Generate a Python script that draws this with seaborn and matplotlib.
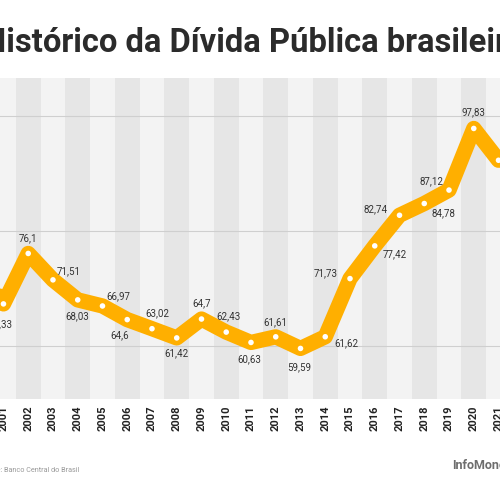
import matplotlib
matplotlib.use('Agg')
import matplotlib.pyplot as plt
import seaborn as sns
import pandas as pd

# divida bruta (% do PIB)
anos = [2000, 2001, 2002, 2003, 2004, 2005, 2006, 2007, 2008, 2009, 2010,
        2011, 2012, 2013, 2014, 2015, 2016, 2017, 2018, 2019, 2020, 2021]
divida = [75.0, 67.33, 76.1, 71.51, 68.03, 66.97, 64.6, 63.02, 61.42, 64.7, 62.43,
          60.63, 61.61, 59.59, 61.62, 71.73, 77.42, 82.74, 84.78, 87.12, 97.83, 92.3]
titulo = 'Histórico da Dívida Pública brasileira'
fonte = 'Fonte: Banco Central do Brasil'
marca = 'InfoMoney'

# deslocamento dos rotulos (pixels, y para baixo)
offsets = [(-10, -16), (-3, 20), (0, -15), (16, -9), (0, 16), (16, -10), (-8, 16), (5, -15),
           (0, 15), (0, -16), (2, -16), (-2, 17), (0, -15), (-1, 19), (21, 6), (-24, -5),
           (20, 8), (-24, -6), (19, 10), (-18, -9), (0, -16), (40, 0)]

df = pd.DataFrame({'ano': anos, 'divida': divida})

laranja = '#FFAF00'
plt.rcParams['font.family'] = ['Roboto', 'DejaVu Sans']

fig = plt.figure(figsize=(5, 5), dpi=100)
ax = fig.add_axes([0, 0.202, 1, 0.642])

for a in anos:
    ax.axvspan(a - 0.5, a + 0.5, color='#e6e6e6' if a % 2 == 0 else '#f3f3f3', lw=0, zorder=0)

sns.lineplot(data=df, x='ano', y='divida', color=laranja, linewidth=11, ax=ax,
             solid_capstyle='round', solid_joinstyle='round', zorder=3)
sns.scatterplot(data=df, x='ano', y='divida', color='white', s=16, edgecolor='none',
                ax=ax, zorder=4)

for a, v, (dx, dy) in zip(anos, divida, offsets):
    txt = f'{v:g}'.replace('.', ',')
    ax.annotate(txt, (a, v), xytext=(dx, -dy), textcoords='offset pixels',
                ha='center', va='center', fontsize=7, color='#333333', zorder=5,
                annotation_clip=True)

ax.set_yticks([60, 80, 100])
ax.set_yticklabels([])
ax.grid(axis='y', color='#cfcfcf', linewidth=0.8)
ax.grid(axis='x', visible=False)
ax.set_axisbelow('line')
ax.set_xticks(anos)
ax.set_xticklabels([str(a) for a in anos], rotation=90, fontsize=8,
                   fontweight='bold', color='#222222')
ax.set_xlim(2000.86, 2021.06)
ax.set_ylim(50.8, 106.6)
ax.tick_params(axis='both', length=0)
ax.tick_params(axis='x', pad=4.5)
ax.set_xlabel('')
ax.set_ylabel('')
for s in ax.spines.values():
    s.set_visible(False)

fig.text(-17 / 500, 1 - 52 / 500, titulo, fontsize=23.6, fontweight='bold',
         color='#2b2b2b', va='baseline', ha='left')
fig.text(-17.7 / 500, 1 - 470 / 500, fonte, fontsize=5.2, color='#999999',
         va='center', ha='left')
fig.text(452 / 500, 1 - 466 / 500, marca, fontsize=9, fontweight='bold',
         color='#6d6d6d', va='center', ha='left')

fig.savefig('out.png', dpi=100, facecolor='white')
